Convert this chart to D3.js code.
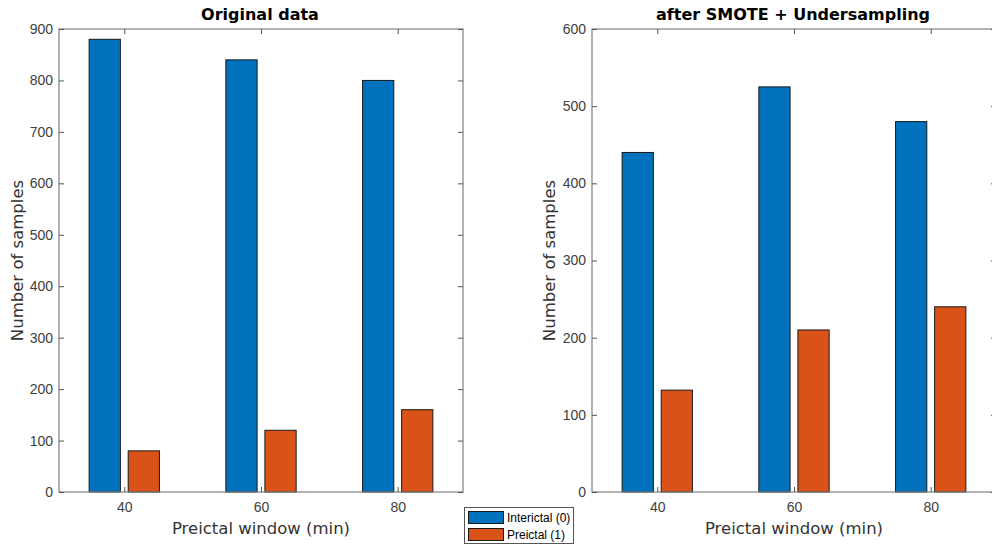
<!DOCTYPE html>
<html>
<head>
<meta charset="utf-8">
<script src="https://cdn.jsdelivr.net/npm/d3@7"></script>
<style>
  body { margin: 0; background: #fff; }
  .tick text { font-family: "Liberation Sans", Arial, sans-serif; font-size: 14px; fill: #404040; }
  .domain { display: none; }
  .tick line { stroke: #555; }
  .label { font-family: "DejaVu Sans", sans-serif; font-size: 16.5px; fill: #333; }
  .title { font-family: "DejaVu Sans", sans-serif; font-size: 16px; font-weight: bold; fill: #000; }
</style>
</head>
<body>
<div id="chart"></div>
<script>
// data
var windows = [40, 60, 80];
var seriesNames = ['Interictal (0)', 'Preictal (1)'];
var seriesColors = ['#0072BD', '#D95319'];

var originalInterictal = [880, 840, 800];
var originalPreictal = [80, 120, 160];
var balancedInterictal = [440, 525, 480];
var balancedPreictal = [132, 210, 240];

var originalTicks = [0, 100, 200, 300, 400, 500, 600, 700, 800, 900];
var balancedTicks = [0, 100, 200, 300, 400, 500, 600];

var width = 992;
var height = 545;

var svg = d3.select('#chart').append('svg')
	.attr('width', width)
	.attr('height', height);

// MATLAB grouped bar: group width 0.571 of spacing, bars 0.8 of their slot
var spacing = 20;
var groupWidth = spacing * Math.min(0.8, 2 / 3.5);
var barWidth = groupWidth / 2 * 0.8;
var offsets = [-groupWidth / 4, groupWidth / 4];

function panel(left, title, interictal, preictal, yMax, yTicks, ylabX) {
	var top = 29, bottom = 492, right = left + 404;
	var g = svg.append('g');

	var xScale = d3.scaleLinear().domain([30.45, 89.55]).range([left, right]);
	var yScale = d3.scaleLinear().domain([0, yMax]).range([bottom, top]);

	var series = [interictal, preictal];
	series.forEach(function (vals, s) {
		g.selectAll('.bar' + s)
			.data(vals)
			.enter()
			.append('rect')
			.attr('class', 'bar' + s)
			.attr('x', function (d, i) { return xScale(windows[i] + offsets[s] - barWidth / 2); })
			.attr('width', xScale(barWidth) - xScale(0))
			.attr('y', function (d) { return yScale(d); })
			.attr('height', function (d) { return yScale(0) - yScale(d); })
			.attr('fill', seriesColors[s])
			.attr('stroke', '#1a1a1a')
			.attr('stroke-width', 1);
	});

	// box
	g.append('rect')
		.attr('x', left).attr('y', top)
		.attr('width', right - left).attr('height', bottom - top)
		.attr('fill', 'none')
		.attr('stroke', '#808080')
		.attr('stroke-width', 1.2);

	g.append('g')
		.attr('transform', 'translate(0,' + bottom + ')')
		.call(d3.axisBottom(xScale).tickValues(windows).tickSizeInner(-5).tickSizeOuter(0).tickPadding(10));
	g.append('g')
		.attr('transform', 'translate(0,' + top + ')')
		.call(d3.axisTop(xScale).tickValues(windows).tickSizeInner(-5).tickSizeOuter(0).tickFormat(''));
	g.append('g')
		.attr('transform', 'translate(' + left + ',0)')
		.call(d3.axisLeft(yScale).tickValues(yTicks).tickSizeInner(-5).tickSizeOuter(0).tickPadding(6));
	g.append('g')
		.attr('transform', 'translate(' + right + ',0)')
		.call(d3.axisRight(yScale).tickValues(yTicks).tickSizeInner(-5).tickSizeOuter(0).tickFormat(''));

	g.append('text')
		.attr('class', 'title')
		.attr('text-anchor', 'middle')
		.attr('x', (left + right) / 2 - 1)
		.attr('y', 20)
		.text(title);

	g.append('text')
		.attr('class', 'label')
		.attr('text-anchor', 'middle')
		.attr('x', xScale(60))
		.attr('y', 534)
		.text('Preictal window (min)');

	g.append('text')
		.attr('class', 'label')
		.attr('text-anchor', 'middle')
		.attr('transform', 'translate(' + ylabX + ',' + ((top + bottom) / 2) + ') rotate(-90)')
		.text('Number of samples');
}

panel(59, 'Original data', originalInterictal, originalPreictal, 900, originalTicks, 23);
panel(592, 'after SMOTE + Undersampling', balancedInterictal, balancedPreictal, 600, balancedTicks, 555);

// legend
var legend = svg.append('g').attr('transform', 'translate(464,507)');
legend.append('rect')
	.attr('x', 0.5).attr('y', 0.5)
	.attr('width', 109).attr('height', 36)
	.attr('fill', '#fff')
	.attr('stroke', '#555')
	.attr('stroke-width', 1);
seriesNames.forEach(function (name, i) {
	legend.append('rect')
		.attr('x', 4.5).attr('y', 4.5 + i * 17)
		.attr('width', 35).attr('height', 12)
		.attr('fill', seriesColors[i])
		.attr('stroke', '#1a1a1a');
	legend.append('text')
		.attr('x', 43).attr('y', 15 + i * 17)
		.attr('font-family', '"Liberation Sans", Arial, sans-serif')
		.attr('font-size', '12px')
		.attr('fill', '#000')
		.text(name);
});
</script>
</body>
</html>
